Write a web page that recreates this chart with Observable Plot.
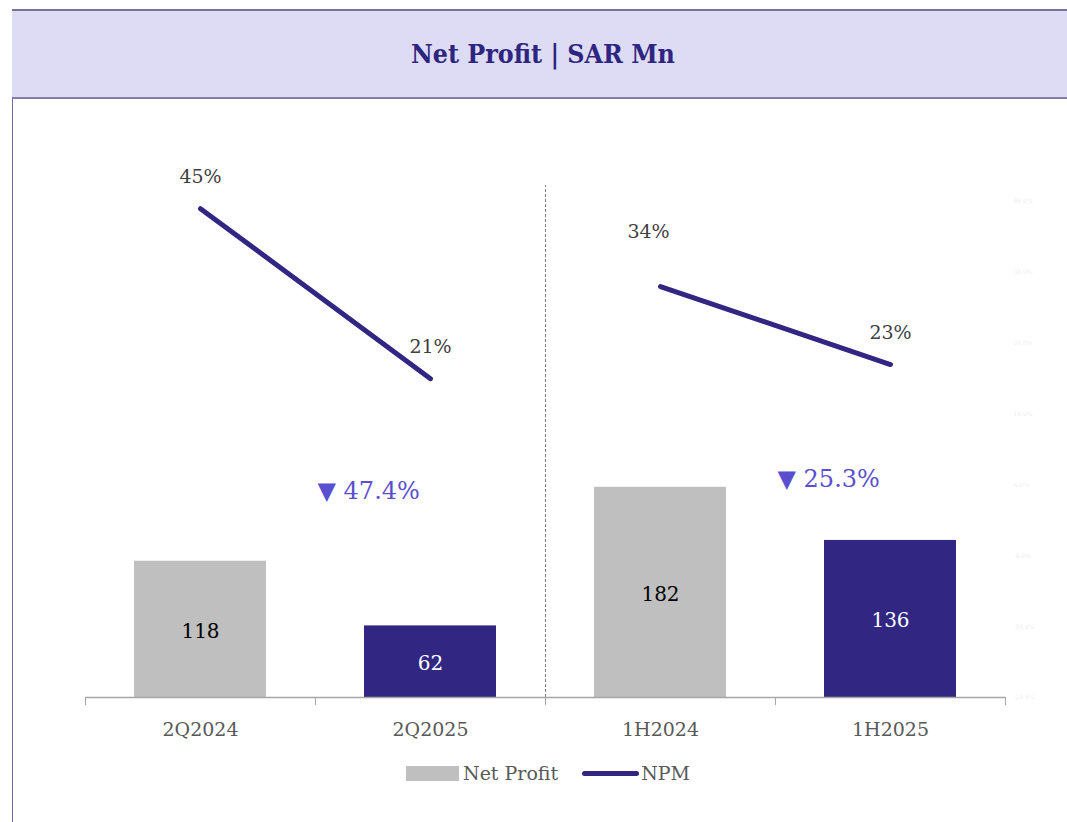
<!DOCTYPE html>
<html>
<head>
<meta charset="utf-8">
<script src="https://cdn.jsdelivr.net/npm/d3@7"></script>
<script src="https://cdn.jsdelivr.net/npm/@observablehq/plot@0.6"></script>
<style>
  html, body { margin: 0; padding: 0; background: #fff; }
  body { width: 1067px; height: 822px; position: relative; overflow: hidden; font-family: "DejaVu Serif", serif; }
  #frame { position: absolute; left: 12px; top: 9px; width: 1080px; height: 830px; border-left: 1px solid #6f68a3; }
  #header { position: absolute; left: 12px; top: 9px; width: 1080px; height: 86px; background: #dedcf4;
            border-top: 2px solid #7a7399; border-bottom: 2px solid #847ea6; }
  #title { position: absolute; left: 12px; width: 1062px; top: 38px; text-align: center; color: #2e2580;
           font-family: "DejaVu Serif Condensed", "DejaVu Serif", serif; font-stretch: condensed; font-weight: bold; font-size: 26.5px; }
  #chart { position: absolute; left: 0; top: 100px; }
  #legend { position: absolute; top: 762px; left: 406px; display: flex; align-items: center; color: #595959; font-size: 19px; }
  .sw-bar { width: 53px; height: 15px; background: #bfbfbf; margin-right: 4px; }
  .sw-line { width: 57px; height: 5px; border-radius: 3px; background: #312783; margin-left: 24px; margin-right: 2px; }
</style>
</head>
<body>
<div id="frame"></div>
<div id="header"></div>
<div id="title">Net Profit | SAR Mn</div>
<div id="chart"></div>
<div id="legend"><div class="sw-bar"></div><span>Net Profit</span><div class="sw-line"></div><span>NPM</span></div>
<script>
// ---- data ----
const categories = ["2Q2024", "2Q2025", "1H2024", "1H2025"];
const netProfit = [118, 62, 182, 136];
const npm = [45, 21, 34, 23];            // net profit margin, %
const periodGroup = ["Q", "Q", "H", "H"];
const changeLabels = ["▼ 47.4%", "▼ 25.3%"];
const changeFrom = [0, 2];               // index of the first category of each pair
const pctTicks = [-24, -14, -4, 6, 16, 26, 36, 46];

// ---- layout / scales ----
const yMax = 443.3;                      // primary (SAR Mn) axis top
const pctToY = d3.scaleLinear().domain([-24, 46]).range([0, 429.4]); // secondary axis mapped onto primary
const purple = "#312783", grey = "#bfbfbf";

const rows = categories.map((c, i) => ({
  cat: c, i, value: netProfit[i], npm: npm[i], group: periodGroup[i],
  fill: c.endsWith("2025") ? purple : grey,
  textFill: c.endsWith("2025") ? "#ffffff" : "#000000"
}));
const changes = changeLabels.map((t, k) => ({ t, i: changeFrom[k] + 1 }));
const changeYs = [178.4, 188.7];

const font = "DejaVu Serif, serif";

const chart = Plot.plot({
  width: 1067,
  height: 660,
  marginLeft: 85,
  marginRight: 62,
  marginTop: 85,
  marginBottom: 63,
  style: { fontFamily: font, background: "transparent", overflow: "visible" },
  x: { type: "linear", domain: [0, categories.length] },
  y: { domain: [0, yMax] },
  marks: [
    // faint secondary axis labels
    Plot.axisY({ anchor: "right", ticks: pctTicks.map(p => pctToY(p)), tickFormat: v => pctToY.invert(v).toFixed(1) + "%",
                 tickSize: 0, tickPadding: 8, fontSize: 6, color: "#eeeeee", label: null }),
    // bars
    Plot.rect(rows, { x1: "i", x2: d => d.i + 1, y1: 0, y2: "value", fill: "fill", insetLeft: 49, insetRight: 49 }),
    // separator between quarter and half-year groups
    Plot.ruleX([2], { y1: 0, y2: yMax, stroke: "#7f7f7f", strokeWidth: 1, strokeDasharray: "3,2" }),
    // axis line
    Plot.ruleY([0], { stroke: "#a6a6a6", strokeWidth: 1.5 }),
    // boundary ticks
    Plot.axisX({ ticks: d3.range(0, categories.length + 1), tickFormat: () => "", tickSize: 8, stroke: "#a6a6a6", label: null }),
    // category labels
    Plot.axisX({ ticks: rows.map(d => d.i + 0.5), tickFormat: v => categories[Math.floor(v)], tickSize: 0, tickPadding: 25,
                 fontSize: 19, color: "#595959", label: null }),
    // bar value labels
    Plot.text(rows, { x: d => d.i + 0.5, y: d => d.value / 2, text: d => String(d.value), fill: "textFill", fontSize: 20, dy: 2 }),
    // NPM lines
    Plot.line(rows, { x: d => d.i + 0.5, y: d => pctToY(d.npm), z: "group", stroke: purple, strokeWidth: 5, strokeLinecap: "round" }),
    // NPM labels
    Plot.text(rows.filter(d => d.cat !== "1H2024"), { x: d => d.i + 0.5, y: d => pctToY(d.npm), text: d => d.npm + "%",
                      fill: "#404040", fontSize: 19, dy: -32 }),
    Plot.text(rows.filter(d => d.cat === "1H2024"), { x: d => d.i + 0.5, y: d => pctToY(d.npm), text: d => d.npm + "%",
                      fill: "#404040", fontSize: 19, dx: -12, dy: -55 }),
    // change annotations
    Plot.text(changes, { x: "i", y: (d, k) => changeYs[k], text: "t", fill: "#5b4fd0", fontSize: 24, textAnchor: "start", dx: 2 })
  ]
});
document.getElementById("chart").appendChild(chart);
</script>
</body>
</html>
